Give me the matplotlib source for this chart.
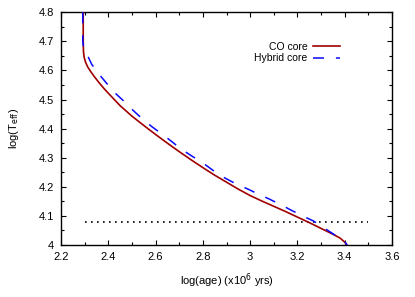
import matplotlib
matplotlib.use("Agg")
import matplotlib.pyplot as plt
from matplotlib.ticker import MultipleLocator, FuncFormatter

plt.rcParams['font.family'] = ['Liberation Sans', 'DejaVu Sans']

co_age = [2.294, 2.294, 2.295, 2.298, 2.304, 2.313, 2.325, 2.340, 2.360, 2.385,
          2.415, 2.450, 2.500, 2.550, 2.600, 2.650, 2.700, 2.750, 2.800, 2.850,
          2.900, 2.950, 3.000, 3.050, 3.100, 3.150, 3.200, 3.250, 3.300, 3.350,
          3.380, 3.400, 3.409]
co_teff = [4.800, 4.700, 4.665, 4.645, 4.628, 4.612, 4.597, 4.580, 4.559, 4.535,
           4.509, 4.479, 4.443, 4.411, 4.380, 4.350, 4.321, 4.293, 4.266, 4.240,
           4.216, 4.192, 4.170, 4.151, 4.133, 4.115, 4.096, 4.077, 4.057, 4.037,
           4.024, 4.010, 4.000]

hy_age = [2.292, 2.292, 2.296, 2.309, 2.330, 2.361, 2.393, 2.428, 2.468, 2.506,
          2.541, 2.584, 2.626, 2.668, 2.706, 2.753, 2.795, 2.844, 2.894, 2.936,
          2.986, 3.032, 3.081, 3.126, 3.173, 3.221, 3.267, 3.310, 3.359, 3.401, 3.410]
hy_teff = [4.800, 4.700, 4.675, 4.657, 4.621, 4.587, 4.556, 4.523, 4.493, 4.462,
           4.436, 4.407, 4.382, 4.356, 4.331, 4.306, 4.285, 4.256, 4.230, 4.212,
           4.194, 4.176, 4.158, 4.140, 4.120, 4.100, 4.083, 4.060, 4.034, 4.011, 4.000]

ref_age = [2.3, 3.5]
ref_teff = [4.08, 4.08]

fig = plt.figure(figsize=(4.15, 2.97), dpi=100)
ax = fig.add_axes([61/415, 1 - 245/297, 331/415, 232.7/297])

ax.plot(co_age, co_teff, color='#a00000', lw=1.2, label='CO core', zorder=3)
ax.plot(hy_age, hy_teff, color='#0a0aff', lw=1.1, dashes=(7.2, 7.8), label='Hybrid core', zorder=4)
ax.plot(ref_age, ref_teff, color='black', lw=1.2, dashes=(1, 2.6), zorder=2)

ax.set_xlim(2.2, 3.6)
ax.set_ylim(4.0, 4.8)
ax.xaxis.set_major_locator(MultipleLocator(0.2))
ax.xaxis.set_minor_locator(MultipleLocator(0.1))
ax.yaxis.set_major_locator(MultipleLocator(0.1))
ax.yaxis.set_minor_locator(MultipleLocator(0.05))
fmt = FuncFormatter(lambda v, p: '%g' % round(v, 2))
ax.xaxis.set_major_formatter(fmt)
ax.yaxis.set_major_formatter(fmt)
ax.tick_params(which='both', direction='in', top=True, right=True, labelsize=8, color='black')
ax.tick_params(which='major', length=3.5, width=0.8, pad=5)
ax.tick_params(which='minor', length=2, width=0.8)
for s in ax.spines.values():
    s.set_linewidth(1.0)

ax.set_xlabel('log(age) (x10$^{6}$ yrs)', fontsize=8, labelpad=7)
ax.set_ylabel('log(T$_{\\mathrm{eff}}$)', fontsize=8, labelpad=13)

leg = ax.legend(loc='upper right', bbox_to_anchor=(0.865, 0.905), frameon=False, fontsize=7.5,
                markerfirst=False, handlelength=2.6, handletextpad=0.5, labelspacing=0.15,
                borderpad=0.2)

fig.savefig('out.png', dpi=100)
